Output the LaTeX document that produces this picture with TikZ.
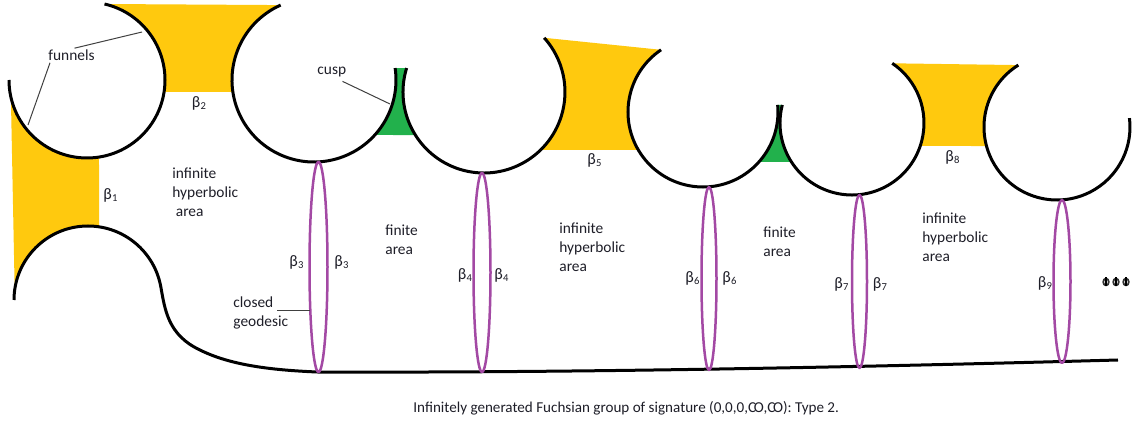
\documentclass[tikz,border=0pt]{standalone}
\usepackage{fontspec}
\setmainfont{Carlito}
\usetikzlibrary{calc}
\definecolor{funnelc}{HTML}{FFC90E}
\definecolor{cuspc}{HTML}{22B14C}
\definecolor{geoc}{HTML}{A349A4}
\definecolor{txtc}{HTML}{1E1E28}
\newcommand\bsub[1]{β\kern.02em\raisebox{-.3ex}{\fontsize{5.3}{5}\selectfont #1}}
\newcommand\ccoo{C\kern-.15em O}
\begin{document}
\begin{tikzpicture}[x=0.5pt,y=-0.5pt,line join=round,
  rim/.style={draw=black,line width=1.5pt},
  geo/.style={draw=geoc,line width=1.25pt},
  lbl/.style={text=txtc,font=\fontsize{7.7}{9.5}\selectfont,inner sep=0pt,anchor=west,align=left},
  blbl/.style={text=txtc,font=\fontsize{8}{9.5}\selectfont,inner sep=0pt,anchor=center},
  caplbl/.style={text=txtc,font=\fontsize{7.55}{9}\selectfont,inner sep=0pt,anchor=west},
  lead/.style={draw=black!75,line width=0.5pt},
  funnel/.style={fill=funnelc},
  cuspfill/.style={fill=cuspc}]
\useasboundingbox[fill=white] (0,0) rectangle (1132,422);
\coordinate (cA) at (87,80);
\coordinate (cB) at (314,80);
\coordinate (cC) at (484,92);
\coordinate (cD) at (703,112);
\coordinate (cE) at (852,123);
\coordinate (cF) at (1057,127);
\coordinate (cG) at (88,300);
% funnels
\fill[funnel] ($(cA)+(-192.6:78)$) -- ($(cG)+(-172.2:74)$) arc[start angle=-172.2,end angle=-81.45,radius=74]
  -- ($(cA)+(-278.85:78)$) arc[start angle=-278.85,end angle=-192.6,radius=78] -- cycle;
\fill[funnel] ($(cA)+(-437:78)$) -- ($(cB)+(-114:82)$) arc[start angle=-114,end angle=-188.4,radius=82]
  -- ($(cA)+(-351.15:78)$) arc[start angle=-351.15,end angle=-437,radius=78] -- cycle;
\fill[funnel] ($(cC)+(-402:81)$) -- ($(cD)+(-124:75)$) arc[start angle=-124,end angle=-210.4,radius=75]
  -- ($(cC)+(-314.3:81)$) arc[start angle=-314.3,end angle=-402,radius=81] -- cycle;
\fill[funnel] ($(cE)+(-416:72)$) -- ($(cF)+(-122:73)$) arc[start angle=-122,end angle=-195.1,radius=73]
  -- ($(cE)+(-341.4:72)$) arc[start angle=-341.4,end angle=-416,radius=72] -- cycle;
% cusps
\fill[cuspfill] ($(cB)+(-8.4:82)$) -- ($(cC)+(-162.8:81)$) arc[start angle=-162.8,end angle=-212.1,radius=81]
  -- ($(cB)+(42.1:82)$) arc[start angle=42.1,end angle=-8.4,radius=82] -- cycle;
\fill[cuspfill] ($(cD)+(-5.4:75)$) -- ($(cE)+(-165.5:72)$) arc[start angle=-165.5,end angle=-212.8,radius=72]
  -- ($(cD)+(41.8:75)$) arc[start angle=41.8,end angle=-5.4,radius=75] -- cycle;
% rims
\draw[rim] ($(cA)+(-180:78)$) arc[start angle=-180,end angle=-437,radius=78];
\draw[rim] ($(cB)+(-114:82)$) arc[start angle=-114,end angle=-368.4,radius=82];
\draw[rim] ($(cC)+(-162.8:81)$) arc[start angle=-162.8,end angle=-402,radius=81];
\draw[rim] ($(cD)+(-124:75)$) arc[start angle=-124,end angle=-365.4,radius=75];
\draw[rim] ($(cE)+(-165.5:72)$) arc[start angle=-165.5,end angle=-416,radius=72];
\draw[rim] ($(cF)+(-122:73)$) arc[start angle=-122,end angle=-367,radius=73];
\draw[rim] ($(cG)+(-180:74)$) arc[start angle=-180,end angle=-10,radius=74]
  .. controls (165,310) and (168,335) .. (200,350)
  .. controls (230,365) and (270,370) .. (317,372)
  .. controls (600,373) and (900,366) .. (1118,360);
% closed geodesics
\draw[geo] (318.5,267) ellipse[x radius=9,y radius=105];
\draw[geo] (482,272.5) ellipse[x radius=8.5,y radius=99.5];
\draw[geo] (709,278.5) ellipse[x radius=7.5,y radius=91.5];
\draw[geo] (859.5,281.5) ellipse[x radius=7.5,y radius=86.5];
\draw[geo] (1062,281.5) ellipse[x radius=8.5,y radius=81.5];
% labels
\node[lbl] (funnels) at (48,55) {funnels};
\coordinate (fa) at (142,32);
\coordinate (fb) at (28,125);
\draw[lead] (funnels.north) ++(3,-1) -- (fa);
\draw[lead] (funnels.south west) ++(2,2) -- (fb);
\node[lbl] (cusp) at (317,72) {cusp};
\coordinate (ca) at (390,104);
\draw[lead] (cusp.south east) ++(-4,4) -- (ca);
\node[lbl] (cg) at (233,313) {closed\\geodesic};
\coordinate (cga) at (277,311);
\coordinate (cgb) at (310,311);
\draw[lead] (cga) -- (cgb);
\node[lbl] (ih1) at (172,192) {infinite\\hyperbolic\\\ area};
\node[lbl] (fa1) at (385,240) {finite\\area};
\node[lbl] (ih2) at (559,247) {infinite\\hyperbolic\\area};
\node[lbl] (fa2) at (763,242) {finite\\area};
\node[lbl] (ih3) at (922,237) {infinite\\hyperbolic\\area};
\node[blbl] (b1) at (110.5,195) {\bsub{1}};
\node[blbl] (b2) at (199,103) {\bsub{2}};
\node[blbl] (b3l) at (296.5,262) {\bsub{3}};
\node[blbl] (b3r) at (341.5,262) {\bsub{3}};
\node[blbl] (b4l) at (465,275) {\bsub{4}};
\node[blbl] (b4r) at (501.5,275) {\bsub{4}};
\node[blbl] (b5) at (594.5,160) {\bsub{5}};
\node[blbl] (b6l) at (692.5,278) {\bsub{6}};
\node[blbl] (b6r) at (729.5,278) {\bsub{6}};
\node[blbl] (b7l) at (841.5,284) {\bsub{7}};
\node[blbl] (b7r) at (880,284) {\bsub{7}};
\node[blbl] (b8) at (952.5,157) {\bsub{8}};
\node[blbl] (b9) at (1045,283) {\bsub{9}};
% dots
\foreach \x in {1106,1116,1126}{
  \draw[black!80,line width=0.9pt] (\x,282) ellipse[x radius=2.8,y radius=3.4];
  \draw[black,line width=0.6pt] (\x,277.5) -- (\x,286.5);
}
\node[caplbl] (cap) at (413,408) {Infinitely generated Fuchsian group of signature (0,0,0,\ccoo,\ccoo): Type 2.};
\end{tikzpicture}
\end{document}
